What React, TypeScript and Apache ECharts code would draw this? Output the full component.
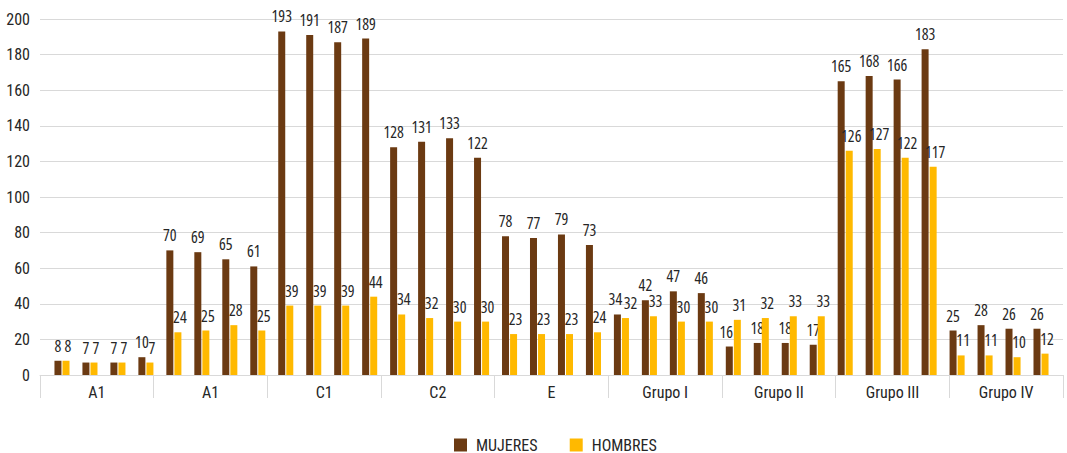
import React, { useEffect, useRef } from "react";
import * as echarts from "echarts";

const groups = ["A1", "A1", "C1", "C2", "E", "Grupo I", "Grupo II", "Grupo III", "Grupo IV"];
const subCats = Array.from({ length: 36 }, (_, i) => `${groups[Math.floor(i / 4)]}-${(i % 4) + 1}`);
const mujeres = [8, 7, 7, 10, 70, 69, 65, 61, 193, 191, 187, 189, 128, 131, 133, 122, 78, 77, 79, 73, 34, 42, 47, 46, 16, 18, 18, 17, 165, 168, 166, 183, 25, 28, 26, 26];
const hombres = [8, 7, 7, 7, 24, 25, 28, 25, 39, 39, 39, 44, 34, 32, 30, 30, 23, 23, 23, 24, 32, 33, 30, 30, 31, 32, 33, 33, 126, 127, 122, 117, 11, 11, 10, 12];

const FONT = "Roboto, sans-serif";
const LABEL_FONT = "'Open Sans', Roboto, sans-serif";
const TXT = "#262626";

export default function App() {
  const ref = useRef<HTMLDivElement>(null);
  useEffect(() => {
    if (!ref.current) return;
    const chart = echarts.init(ref.current, null, { renderer: "svg" });
    const label = {
      show: true,
      position: "top" as const,
      distance: 7,
      fontFamily: LABEL_FONT,
      fontSize: 16,
      color: TXT,
    };
    // small label nudges where neighbouring labels would collide
    const nudgeM: Record<number, number[]> = { 20: [-2, 0], 24: [-3, 0] };
    const nudgeH: Record<number, number[]> = { 20: [5, 0] };
    const mData = mujeres.map((v, i) => (nudgeM[i] ? { value: v, label: { offset: nudgeM[i] } } : v));
    const hData = hombres.map((v, i) => (nudgeH[i] ? { value: v, label: { offset: nudgeH[i] } } : v));
    chart.setOption({
      animation: false,
      textStyle: { fontFamily: FONT },
      grid: [
        { left: 40, right: 4, top: 19, bottom: 78 },
        { left: 48, right: 12, top: 19, bottom: 78 },
      ],
      legend: {
        top: 437,
        left: 449,
        padding: [0, 5, 0, 5],
        itemWidth: 13,
        itemHeight: 13,
        itemGap: 23,
        icon: "rect",
        textStyle: { fontFamily: FONT, fontSize: 16, color: TXT, padding: [0, 0, 0, 4] },
        data: ["MUJERES", "HOMBRES"],
      },
      xAxis: [
        {
          type: "category",
          gridIndex: 0,
          data: groups,
          axisLine: { lineStyle: { color: "#d9d9d9", width: 1 } },
          axisTick: { show: true, length: 23, interval: 0, lineStyle: { color: "#d9d9d9" } },
          axisLabel: { interval: 0, margin: 9, fontSize: 16, color: TXT, fontFamily: FONT },
        },
        {
          type: "category",
          gridIndex: 1,
          data: subCats,
          show: false,
        },
      ],
      yAxis: [
        {
          type: "value",
          gridIndex: 0,
          min: 0,
          max: 200,
          interval: 20,
          axisLine: { show: false },
          axisTick: { show: false },
          splitLine: { lineStyle: { color: "#d9d9d9", width: 1 } },
          axisLabel: { fontSize: 16, color: TXT, fontFamily: FONT, margin: 10 },
        },
        {
          type: "value",
          gridIndex: 1,
          min: 0,
          max: 200,
          show: false,
          splitLine: { show: false },
        },
      ],
      series: [
        {
          name: "MUJERES",
          type: "bar",
          xAxisIndex: 1,
          yAxisIndex: 1,
          data: mData,
          barWidth: 7,
          barGap: "15%",
          z: 2,
          itemStyle: { color: "#6B3A12" },
          label,
        },
        {
          name: "HOMBRES",
          type: "bar",
          xAxisIndex: 1,
          yAxisIndex: 1,
          data: hData,
          barWidth: 7,
          barGap: "15%",
          z: 3,
          itemStyle: { color: "#FFB900" },
          label: { ...label, offset: [2, 0] },
        },
      ],
    });
    return () => chart.dispose();
  }, []);
  return (
    <div
      ref={ref}
      style={{ position: "absolute", left: 0, top: 0, width: 1067, height: 453, fontStretch: "condensed" }}
    />
  );
}
